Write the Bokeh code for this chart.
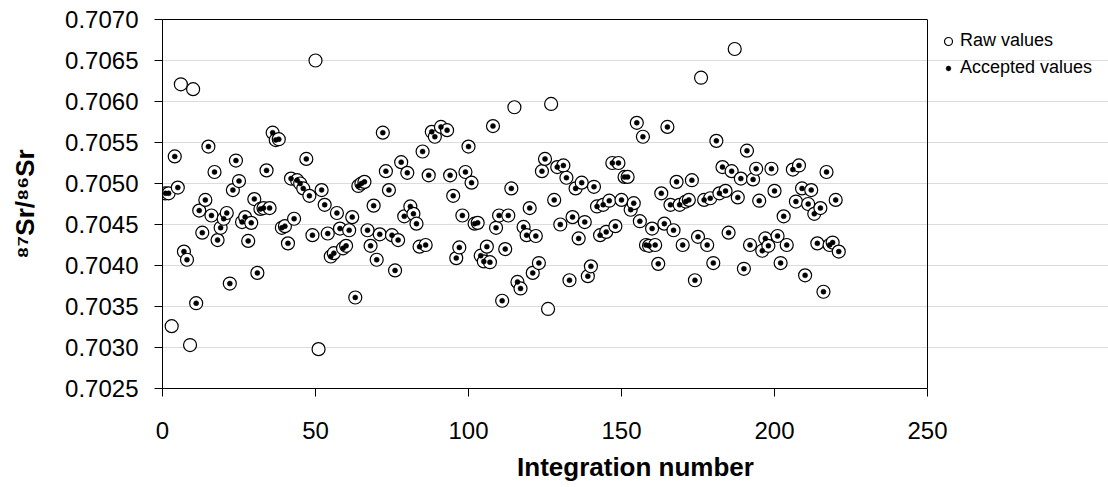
from bokeh.plotting import figure
from bokeh.models import (Range1d, FixedTicker, PrintfTickFormatter, Legend,
                          LegendItem, ColumnDataSource, LinearAxis, Span)
from bokeh.embed import file_html
from bokeh.resources import INLINE

# ---- data ----
accepted_n = [1, 2, 4, 5, 7, 8, 11, 12, 13, 14, 15, 16, 17, 18, 19, 20, 21, 22, 23, 24,
              25, 26, 27, 28, 29, 30, 31, 32, 33, 34, 35, 36, 37, 38, 39, 40, 41, 42, 43, 44,
              45, 46, 47, 48, 49, 52, 53, 54, 55, 56, 57, 58, 59, 60, 61, 62, 63, 64, 65, 66,
              67, 68, 69, 70, 71, 72, 73, 74, 75, 76, 77, 78, 79, 80, 81, 82, 83, 84, 85, 86,
              87, 88, 89, 91, 93, 94, 95, 96, 97, 98, 99, 100, 101, 102, 103, 104, 105, 106, 107, 108,
              109, 110, 111, 112, 113, 114, 116, 117, 118, 119, 120, 121, 122, 123, 124, 125, 128, 129, 130, 131,
              132, 133, 134, 135, 136, 137, 138, 139, 140, 141, 142, 143, 144, 145, 146, 147, 148, 149, 150, 151,
              152, 153, 154, 155, 156, 157, 158, 159, 160, 161, 162, 163, 164, 165, 166, 167, 168, 169, 170, 171,
              172, 173, 174, 175, 177, 178, 179, 180, 181, 182, 183, 184, 185, 186, 188, 189, 190, 191, 192, 193,
              194, 195, 196, 197, 198, 199, 200, 201, 202, 203, 204, 206, 207, 208, 209, 210, 211, 212, 213, 214,
              215, 216, 217, 218, 219, 220, 221]
accepted_value = [0.70488, 0.70488, 0.70533, 0.70495, 0.70417, 0.70407, 0.70354, 0.70467, 0.70440, 0.70480,
                  0.70545, 0.70461, 0.70514, 0.70431, 0.70446, 0.70457, 0.70464, 0.70378, 0.70492, 0.70528,
                  0.70503, 0.70453, 0.70459, 0.70430, 0.70452, 0.70481, 0.70391, 0.70469, 0.70470, 0.70516,
                  0.70470, 0.70562, 0.70553, 0.70554, 0.70446, 0.70448, 0.70427, 0.70506, 0.70457, 0.70504,
                  0.70500, 0.70494, 0.70530, 0.70485, 0.70437, 0.70492, 0.70474, 0.70439, 0.70411, 0.70415,
                  0.70464, 0.70445, 0.70421, 0.70424, 0.70443, 0.70459, 0.70361, 0.70497, 0.70500, 0.70502,
                  0.70443, 0.70424, 0.70473, 0.70407, 0.70438, 0.70562, 0.70515, 0.70492, 0.70437, 0.70394,
                  0.70431, 0.70526, 0.70460, 0.70513, 0.70472, 0.70463, 0.70451, 0.70423, 0.70539, 0.70425,
                  0.70510, 0.70563, 0.70557, 0.70569, 0.70565, 0.70510, 0.70485, 0.70409, 0.70422, 0.70461,
                  0.70514, 0.70545, 0.70501, 0.70451, 0.70452, 0.70412, 0.70405, 0.70423, 0.70404, 0.70570,
                  0.70446, 0.70461, 0.70357, 0.70420, 0.70461, 0.70494, 0.70380, 0.70372, 0.70447, 0.70437,
                  0.70470, 0.70391, 0.70436, 0.70403, 0.70515, 0.70530, 0.70480, 0.70520, 0.70450, 0.70522,
                  0.70507, 0.70382, 0.70459, 0.70494, 0.70433, 0.70501, 0.70453, 0.70387, 0.70399, 0.70496,
                  0.70472, 0.70437, 0.70474, 0.70441, 0.70479, 0.70525, 0.70448, 0.70525, 0.70480, 0.70508,
                  0.70508, 0.70468, 0.70476, 0.70574, 0.70454, 0.70557, 0.70425, 0.70424, 0.70445, 0.70425,
                  0.70402, 0.70488, 0.70451, 0.70569, 0.70474, 0.70443, 0.70502, 0.70474, 0.70425, 0.70478,
                  0.70480, 0.70504, 0.70382, 0.70435, 0.70480, 0.70425, 0.70482, 0.70403, 0.70552, 0.70488,
                  0.70520, 0.70491, 0.70440, 0.70515, 0.70483, 0.70506, 0.70396, 0.70540, 0.70425, 0.70505,
                  0.70518, 0.70479, 0.70418, 0.70433, 0.70424, 0.70518, 0.70491, 0.70436, 0.70403, 0.70460,
                  0.70425, 0.70517, 0.70478, 0.70522, 0.70494, 0.70388, 0.70475, 0.70492, 0.70463, 0.70427,
                  0.70470, 0.70368, 0.70514, 0.70425, 0.70428, 0.70480, 0.70417]
rejected_n = [3, 6, 9, 10, 50, 51, 115, 126, 127, 176, 187]
rejected_value = [0.70326, 0.70621, 0.70303, 0.70615, 0.70650, 0.70298, 0.70593, 0.70347, 0.70597,
                  0.70629, 0.70664]

x_ticks = [0, 50, 100, 150, 200, 250]
y_ticks = [0.7025, 0.7030, 0.7035, 0.7040, 0.7045, 0.7050, 0.7055, 0.7060, 0.7065, 0.7070]
x_min, x_max = 0, 250
y_min, y_max = 0.7025, 0.7070

FONT = "Liberation Sans"

W, H = 1108, 487
LEFT, TOP, BOTTOM = 162, 19, 99
PLOT_W = 765                      # pixel width of the 0..250 axis
frame_w = W - LEFT
x_view_max = x_min + (x_max - x_min) * frame_w / PLOT_W

raw_src = ColumnDataSource(dict(n=accepted_n + rejected_n, v=accepted_value + rejected_value))
acc_src = ColumnDataSource(dict(n=accepted_n, v=accepted_value))

p = figure(width=W, height=H, output_backend="svg", toolbar_location=None,
           x_range=Range1d(x_min, x_view_max), y_range=Range1d(y_min, y_max),
           min_border_left=LEFT, min_border_right=0, min_border_top=TOP,
           min_border_bottom=BOTTOM)

p.outline_line_color = None
p.background_fill_color = "white"
p.border_fill_color = "white"

p.xgrid.visible = False
p.ygrid.grid_line_color = "#dcdcdc"
p.ygrid.grid_line_width = 1
p.ygrid.bounds = (x_min, x_max)

for ax in (p.xaxis[0], p.yaxis[0]):
    ax.axis_line_color = "black"
    ax.major_tick_line_color = "black"
    ax.major_tick_in = 0
    ax.major_tick_out = 8
    ax.minor_tick_line_color = None
    ax.major_label_text_font = FONT
    ax.major_label_text_font_size = "24px"
    ax.major_label_text_color = "black"
    ax.axis_label_text_font = FONT
    ax.axis_label_text_font_size = "26px"
    ax.axis_label_text_font_style = "bold"
    ax.axis_label_text_color = "black"

p.xaxis.ticker = FixedTicker(ticks=x_ticks)
p.xaxis.bounds = (x_min, x_max)
p.yaxis.ticker = FixedTicker(ticks=y_ticks)
p.yaxis.formatter = PrintfTickFormatter(format="%.4f")
p.xaxis.major_label_standoff = 25
p.yaxis.major_label_standoff = 16
p.xaxis.axis_label = "Integration number"
p.yaxis.axis_label = "\u2078\u2077Sr/\u2078\u2076Sr"
p.xaxis.axis_label_standoff = 10
p.yaxis.axis_label_standoff = 22

# plot-area border: top line and right line
top_axis = LinearAxis(ticker=FixedTicker(ticks=[]), bounds=(x_min, x_max),
                      axis_line_color="black", major_tick_line_color=None,
                      minor_tick_line_color=None)
p.add_layout(top_axis, "above")
p.add_layout(Span(location=x_max, dimension="height", line_color="black", line_width=1))

r_raw = p.scatter(x="n", y="v", source=raw_src, marker="circle", size=13,
                  fill_color="white", line_color="black", line_width=1.2)
r_acc = p.scatter(x="n", y="v", source=acc_src, marker="circle", size=5,
                  fill_color="black", line_color="black", line_width=0.5)

common = dict(padding=0, margin=0, spacing=0, border_line_color=None,
              background_fill_alpha=0, label_text_font=FONT,
              label_text_font_size="18px", label_text_color="black",
              label_height=20, glyph_height=20)
leg1 = Legend(items=[LegendItem(label="Raw values", renderers=[r_raw])],
              location=(776, 337), glyph_width=20, label_standoff=2, **common)
leg2 = Legend(items=[LegendItem(label="Accepted values", renderers=[r_acc])],
              location=(780, 310), glyph_width=12, label_standoff=6, **common)
p.add_layout(leg1)
p.add_layout(leg2)

open("out.html", "w").write(file_html(p, INLINE))
